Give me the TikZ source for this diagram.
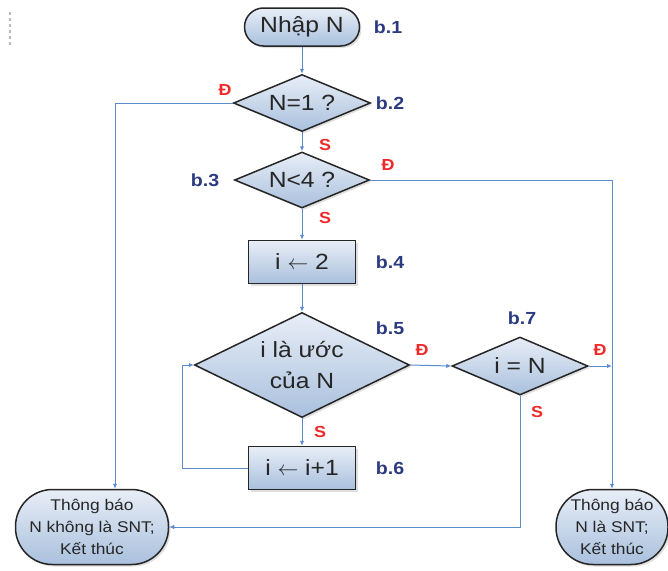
\documentclass[tikz,border=0pt]{standalone}
\usepackage{fontspec}
\setmainfont{Liberation Sans}[FakeStretch=1.12]
\usetikzlibrary{shapes.geometric,arrows.meta,shadows}
\definecolor{bfTop}{HTML}{E8EEF7}
\definecolor{bfBot}{HTML}{A9C0DD}
\definecolor{lineblue}{HTML}{5B8BCF}
\definecolor{navy}{HTML}{2C3A80}
\definecolor{redlab}{HTML}{F02828}
\tikzset{
  shapebase/.style={draw=black!85, line width=1.5pt, top color=bfTop, bottom color=bfBot,
    drop shadow={shadow xshift=2pt,shadow yshift=-2pt,opacity=0.25},
    text=black!85, align=center, inner sep=0pt},
  term/.style={shapebase, rectangle, font=\fontsize{22}{25}\selectfont},
  endbox/.style={shapebase, rectangle, font=\fontsize{15.5}{22}\selectfont},
  proc/.style={shapebase, rectangle, minimum width=107pt, minimum height=43pt, font=\fontsize{22}{25}\selectfont},
  dec/.style={shapebase, diamond, font=\fontsize{22}{30}\selectfont},
  conn/.style={draw=lineblue, line width=1pt, -{Latex[length=5pt,width=4.5pt]}},
  blab/.style={text=navy, font=\bfseries\fontsize{17.5}{20}\selectfont},
  dslab/.style={text=redlab, font=\bfseries\fontsize{16}{18}\selectfont}
}
\begin{document}
\begin{tikzpicture}[x=1pt,y=-1pt]
\useasboundingbox (0,0) rectangle (668,570);
\draw[gray!55, dash pattern=on 3pt off 3pt, line width=1.2pt] (10,12) -- (10,45);
% shapes
\node[term, minimum width=115pt, minimum height=38pt, rounded corners=19pt] (start) at (302,27) {Nhập N};
\node[dec, aspect=2.4, minimum width=137pt, minimum height=57pt] (d1) at (302,103) {N=1 ?};
\node[dec, aspect=2.4, minimum width=135pt, minimum height=56pt] (d2) at (302,180) {N<4 ?};
\node[proc] (b4) at (302,262) {i $\leftarrow$ 2};
\node[dec, aspect=2.05, minimum width=215pt, minimum height=105pt] (d5) at (302,365) {i là ước\\của N};
\node[dec, aspect=2.35, minimum width=136pt, minimum height=58pt] (d7) at (520,366) {i = N};
\node[proc] (b6) at (302,468) {i $\leftarrow$ i+1};
\node[endbox, minimum width=153pt, minimum height=75pt, rounded corners=37pt] (endL) at (92,527) {Thông báo\\N không là SNT;\\Kết thúc};
\node[endbox, minimum width=112pt, minimum height=75pt, rounded corners=37pt] (endR) at (612,527) {Thông báo\\N là SNT;\\Kết thúc};
% step labels
\node[blab] (l1) at (388,27) {b.1};
\node[blab] (l2) at (390,103) {b.2};
\node[blab] (l3) at (205,180) {b.3};
\node[blab] (l4) at (390,262) {b.4};
\node[blab] (l5) at (390,328) {b.5};
\node[blab] (l6) at (390,468) {b.6};
\node[blab] (l7) at (522,318) {b.7};
% yes/no labels
\node[dslab] (y1) at (225,90) {Đ};
\node[dslab] (n1) at (325,145) {S};
\node[dslab] (y2) at (388,165) {Đ};
\node[dslab] (n2) at (325,218) {S};
\node[dslab] (y5) at (422,350) {Đ};
\node[dslab] (y7) at (600,350) {Đ};
\node[dslab] (n7) at (537,412) {S};
\node[dslab] (n5) at (320,432) {S};
% connectors
\draw[conn] (start) -- (d1);
\draw[conn] (d1) -- (d2);
\draw[conn] (d2) -- (b4);
\draw[conn] (b4) -- (d5);
\draw[conn] (d5) -- (b6);
\draw[conn] (d5.east) -- (d7.west);
\coordinate (jn) at (endR.north |- d7.east);
\draw[conn] (d7.east) -- (jn);
\draw[conn] (d2.east) -| (endR.north);
\coordinate (lx) at (115,0);
\draw[conn] (d1.west) -| (lx |- endL.north);
\draw[conn] (d7.south) |- (endL.east);
\coordinate (lp) at (182,0);
\draw[conn] (b6.west) -- (lp |- b6.west) |- (d5.west);
\end{tikzpicture}
\end{document}
